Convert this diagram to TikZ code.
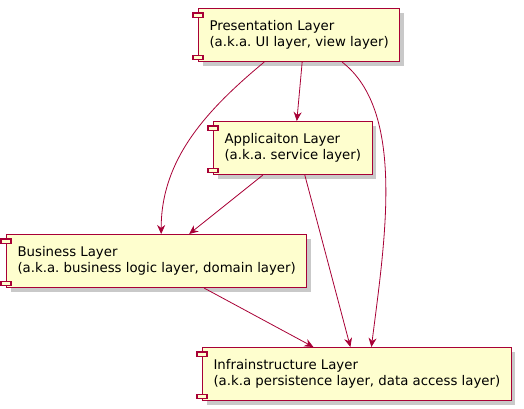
\documentclass[tikz,border=0pt]{standalone}
\usepackage{fontspec}
\setmainfont{DejaVu Sans}
\usetikzlibrary{arrows.meta}
\usetikzlibrary{shadows}
\definecolor{plred}{HTML}{A80036}
\definecolor{plfill}{HTML}{FEFECE}
\tikzset{
  % A component box with the two small tabs on its left side
  comp/.style={
    draw=plred, fill=plfill, rectangle, line width=1.1pt, align=left,
    font=\fontsize{13.3}{16}\selectfont\frenchspacing, inner xsep=11pt, inner ysep=0pt,
    minimum height=53pt, anchor=north west,
    drop shadow={shadow xshift=4pt, shadow yshift=-4pt, fill=black!35, opacity=.6}},
  tab/.style={draw=plred, fill=plfill, line width=1.1pt},
  % Dependencies
  dep/.style={-{Stealth[length=9pt, width=8pt, inset=3pt]}, draw=plred, line width=0.8pt},
}
% the two tabs of a component, on the west side of node #1
\newcommand{\comptabs}[1]{
  \draw[tab] ([xshift=-5pt, yshift=-5pt]#1.north west) rectangle ++(10,4.5);
  \draw[tab] ([xshift=-5pt, yshift=7pt]#1.south west) rectangle ++(10,4.5);
}

\begin{document}
\begin{tikzpicture}[x=1pt, y=-1pt]
\useasboundingbox[fill=white] (0,0) rectangle (524,409);

\node[comp] (pres) at (198,8) {Presentation Layer\\(a.k.a. UI layer, view layer)};
\node[comp] (app) at (213,121) {Applicaiton Layer\\(a.k.a. service layer)};
\node[comp] (biz) at (6,234) {Business Layer\\(a.k.a. business logic layer, domain layer)};
\node[comp] (infra) at (202,347) {Infrainstructure Layer\\(a.k.a persistence layer, data access layer)};

\comptabs{pres}
\comptabs{app}
\comptabs{biz}
\comptabs{infra}

\draw[dep] ([xshift=3pt]pres.south) -- ([xshift=4pt]app.north);
\draw[dep] ([xshift=-35pt]pres.south) .. controls +(-59,49) and +(0,-74) .. ([xshift=4.5pt]biz.north);
\draw[dep] ([xshift=43pt]pres.south) .. controls +(63,49) and +(14,-110) .. ([xshift=14.5pt]infra.north);
\draw[dep] ([xshift=-30pt]app.south) -- ([xshift=32.5pt]biz.north);
\draw[dep] ([xshift=12pt]app.south) -- ([xshift=-6.5pt]infra.north);
\draw[dep] ([xshift=47.5pt]biz.south) -- ([xshift=-43.5pt]infra.north);

\end{tikzpicture}
\end{document}
